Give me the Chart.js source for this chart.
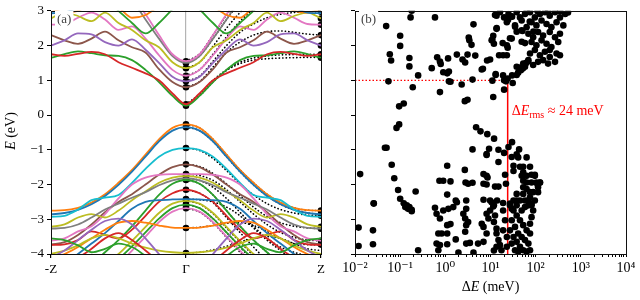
<!DOCTYPE html>
<html>
<head>
<meta charset="utf-8">
<script src="https://cdn.jsdelivr.net/npm/chart.js@4.4.1/dist/chart.umd.min.js"></script>
<style>
  html, body { margin: 0; padding: 0; background: #fff; }
  #wrap { position: relative; width: 640px; height: 300px; }
  #ca { position: absolute; left: 0; top: 0; }
  #cb { position: absolute; left: 330px; top: 0; }
</style>
</head>
<body>
<div id="wrap">
  <canvas id="ca" width="330" height="300"></canvas>
  <canvas id="cb" width="310" height="300"></canvas>
</div>
<script>
// ---- data: panel (a), band energies (eV) from Gamma (k=0) to Z (k=1) ----
const kPath = [0, 0.1, 0.2, 0.3, 0.4, 0.5, 0.6, 0.7, 0.8, 0.9, 1.0];
const kLabels = ['-Z', 'Γ', 'Z'];
const eTicks = [3, 2, 1, 0, -1, -2, -3, -4];

// model bands (coloured, drawn on both sides of Gamma)
const cGreen   = [0.27, 0.55, 0.95, 1.3, 1.58, 1.7, 1.72, 1.78, 1.83, 1.75, 1.65];
const cRed     = [0.31, 0.62, 1.0, 1.2, 1.36, 1.52, 1.75, 1.82, 1.76, 1.7, 1.75];
const cBrown   = [0.8, 0.95, 1.32, 1.8, 1.95, 2.15, 2.4, 2.2, 2.05, 2.15, 2.3];
const cPurple  = [0.97, 1.1, 1.5, 1.88, 2.18, 2.0, 2.1, 2.32, 2.35, 2.15, 2.0];
const cPink    = [1.13, 1.3, 1.72, 2.2, 2.55, 2.45, 2.75, 2.95, 2.8, 2.62, 2.6];
const cOlive   = [1.35, 1.52, 1.95, 2.15, 2.45, 2.65, 2.95, 2.7, 2.85, 2.95, 2.78];
const cGray    = [1.5, 1.7, 2.2, 2.75, 3.3, 3.6, 3.7, 3.7, 3.7, 3.7, 3.7];
const cPink2   = [1.55, 1.75, 2.3, 2.9, 3.4, 3.7, 3.7, 3.7, 3.7, 3.7, 3.7];
const cGreenUp = [3.45, 3.05, 2.65, 2.35, 2.65, 3.0, 3.35, 3.6, 3.6, 3.6, 3.6];
const cOrangeUp= [3.8, 3.5, 3.15, 2.88, 2.8, 3.1, 3.3, 3.2, 3.0, 2.95, 3.05];
const cBlueUp  = [3.9, 3.6, 3.3, 3.05, 3.2, 3.4, 3.5, 3.3, 3.1, 2.95, 2.93];

const vOrange  = [-0.27, -0.37, -0.7, -1.14, -1.58, -1.95, -2.28, -2.52, -2.67, -2.74, -2.75];
const vBlue    = [-0.35, -0.45, -0.76, -1.2, -1.63, -2.01, -2.33, -2.57, -2.73, -2.82, -2.86];
const vCyan    = [-0.95, -1.0, -1.2, -1.55, -1.95, -2.3, -2.38, -2.45, -2.72, -2.9, -2.93];
const vBrown   = [-1.42, -1.5, -1.72, -2.0, -2.28, -2.5, -2.8, -3.15, -3.45, -3.66, -3.73];
const vPink    = [-1.7, -1.7, -1.72, -1.8, -2.0, -2.4, -2.85, -3.2, -3.35, -3.55, -3.62];
const vOlive   = [-1.75, -1.8, -1.95, -2.2, -2.45, -2.75, -2.95, -2.85, -2.95, -3.15, -3.22];
const vGray    = [-1.82, -1.88, -2.02, -2.22, -2.38, -2.55, -2.72, -2.95, -3.15, -3.25, -3.27];
const vGreen   = [-1.87, -1.98, -2.3, -2.75, -3.2, -3.6, -3.95, -4.3, -4.5, -4.6, -4.6];
const vRed     = [-2.15, -2.25, -2.5, -2.9, -3.3, -3.55, -3.45, -3.35, -3.6, -3.72, -3.74];
const vBlue2   = [-2.42, -2.43, -2.45, -2.5, -2.7, -3.05, -3.4, -3.7, -4.0, -4.3, -4.4];
const vOlive2  = [-2.47, -2.55, -2.82, -3.22, -3.62, -4.0, -4.3, -4.5, -4.5, -4.5, -4.5];
const vGreen2  = [-2.58, -2.68, -2.98, -3.38, -3.78, -4.15, -4.5, -4.6, -4.6, -4.6, -4.6];
const vPink2   = [-2.68, -2.78, -3.08, -3.5, -3.9, -4.3, -4.6, -4.7, -4.7, -4.7, -4.7];
const vOrange2 = [-3.25, -3.24, -3.18, -3.1, -3.05, -3.1, -3.3, -3.55, -3.8, -4.0, -4.1];
const vOlive3  = [-3.97, -3.95, -3.9, -3.82, -3.7, -3.55, -3.45, -3.55, -3.75, -3.9, -4.0];
const vPurple  = [-4.6, -4.4, -4.0, -3.55, -3.15, -2.98, -3.05, -3.3, -3.6, -3.9, -4.1];
const vRed2    = [-4.5, -4.4, -4.2, -3.9, -3.6, -3.4, -3.55, -3.85, -4.1, -4.2, -4.2];
const vGreen3  = [-4.6, -4.5, -4.3, -4.05, -3.8, -3.7, -3.85, -3.95, -3.75, -3.6, -3.55];

// reference bands (black dotted, Gamma to Z only)
const refBands = [
  [0.28, 0.55, 0.95, 1.28, 1.48, 1.58, 1.62, 1.64, 1.65, 1.66, 1.66],
  [0.31, 0.6, 1.0, 1.3, 1.52, 1.64, 1.7, 1.73, 1.74, 1.75, 1.75],
  [0.8, 0.96, 1.38, 1.8, 2.1, 2.3, 2.4, 2.42, 2.38, 2.33, 2.3],
  [0.97, 1.12, 1.55, 2.0, 2.38, 2.62, 2.8, 2.9, 2.95, 2.97, 2.97],
  [1.13, 1.3, 1.75, 2.25, 2.7, 3.05, 3.3],
  [1.35, 1.52, 1.98, 2.5, 2.95, 3.3],
  [1.5, 1.7, 2.2, 2.75, 3.25],
  [1.55, 1.76, 2.3, 2.88, 3.4],
  [-0.27, -0.37, -0.7, -1.14, -1.58, -1.95, -2.28, -2.52, -2.67, -2.74, -2.75],
  [-0.35, -0.45, -0.76, -1.2, -1.63, -2.01, -2.33, -2.57, -2.73, -2.82, -2.86],
  [-0.95, -1.02, -1.25, -1.6, -1.98, -2.3, -2.55, -2.72, -2.82, -2.88, -2.9],
  [-1.42, -1.48, -1.68, -1.98, -2.32, -2.65, -2.92, -3.1, -3.2, -3.25, -3.27],
  [-1.7, -1.74, -1.88, -2.15, -2.5, -2.85, -3.15, -3.38, -3.52, -3.6, -3.62],
  [-1.82, -1.88, -2.08, -2.4, -2.8, -3.2, -3.55, -3.8, -3.95, -4.05, -4.1],
  [-1.87, -1.98, -2.3, -2.75, -3.2, -3.6, -3.95, -4.25],
  [-2.15, -2.25, -2.52, -2.95, -3.38, -3.8, -4.2],
  [-2.42, -2.44, -2.5, -2.65, -2.9, -3.25, -3.6, -3.9, -4.2],
  [-2.47, -2.56, -2.84, -3.25, -3.65, -4.05, -4.4],
  [-2.58, -2.68, -2.98, -3.38, -3.8, -4.2],
  [-2.68, -2.79, -3.1, -3.52, -3.95, -4.35],
  [-3.25, -3.23, -3.18, -3.12, -3.1, -3.18, -3.35, -3.55, -3.7, -3.73, -3.74],
  [-3.97, -3.95, -3.88, -3.78, -3.65, -3.55, -3.5, -3.55, -3.7, -3.85, -3.9]
];

// fitted energies marked by dots
const gammaLevels = [0.27, 0.31, 0.8, 0.97, 1.13, 1.35, 1.5, 1.55, -0.27, -0.35, -0.95, -1.42,
  -1.7, -1.75, -1.82, -1.87, -2.15, -2.42, -2.47, -2.58, -2.68, -3.25, -3.97];
const zLevels = [1.65, 1.75, 2.0, 2.3, 2.6, 2.78, 2.97, -2.75, -2.86, -2.9, -3.22, -3.27, -3.62, -3.73];

// ---- data: panel (b), deviation (meV) vs energy (eV) ----
const devUpper = [
  [0.049, 2.56], [0.17, 2.81], [0.18, 3.0], [0.59, 2.81], [0.10, 2.28], [0.10, 1.99], [0.059, 1.75],
  [0.063, 1.57], [0.16, 1.64], [0.16, 1.4], [0.25, 1.14], [0.055, 0.97], [0.19, 0.8], [0.50, 1.35],
  [0.66, 1.66], [0.76, 1.54], [0.79, 1.47], [0.9, 1.23], [1.15, 1.63], [1.2, 0.97], [0.76, 0.66],
  [1.8, 1.74], [2.4, 1.6], [2.75, 1.51], [3.1, 1.74], [3.3, 2.23], [3.4, 2.15], [4.2, 2.61], [3.8, 2.02],
  [4.6, 1.71], [2.3, 0.88], [4.0, 1.02], [6.8, 1.33], [8.4, 1.57], [9.8, 1.6], [11, 0.99],
  [11, 2.17], [11.5, 2.28], [12.6, 2.88], [13.7, 2.5], [15.5, 1.72], [19, 1.72], [23, 1.72], [13, 1.18],
  [19, 1.14], [30, 1.14], [22, 0.97], [31, 0.92], [18.6, 2.07], [24, 1.94], [27, 2.21], [24.5, 2.74],
  [30, 2.83], [35, 2.54], [38, 2.4], [45, 1.37], [55, 1.4], [62, 1.5], [68, 1.55], [49, 2.11], [58, 2.07],
  [51, 2.42], [74, 2.69], [89, 2.4], [1.1, 1.2], [1.2, 1.25], [1.3, 0.96], [6.4, 1.31], [13, 1.15],
  [24, 1.05], [20, 1.0], [38, 1.15], [41, 1.22], [47, 1.29], [52, 1.34], [58, 1.39],
  [13.6, 2.86], [16.2, 2.96], [20, 2.81], [25, 2.91], [29.5, 2.84], [38, 2.96], [45, 2.81], [58, 2.91],
  [75, 2.96], [96, 2.81], [124, 2.91], [160, 2.96], [205, 2.86], [268, 2.96], [345, 2.81], [450, 2.91],
  [63, 2.99], [110, 2.99], [190, 2.99], [350, 2.99], [520, 2.95],
  [23, 2.67], [34.9, 2.58], [49, 2.72], [63, 2.53], [81, 2.67], [104, 2.58], [135, 2.72], [174, 2.62],
  [223, 2.53], [290, 2.67], [410, 2.58],
  [13.6, 2.48], [49, 2.44], [69, 2.34], [88, 2.24], [113, 2.39], [146, 2.29], [205, 2.39], [268, 2.24], [345, 2.34],
  [10.6, 2.15], [11.9, 2.05], [23, 2.01], [29.5, 2.2], [81, 2.1], [104, 2.01], [135, 2.15], [174, 2.05],
  [223, 1.96], [316, 2.1],
  [75, 1.77], [96, 1.87], [124, 1.72], [160, 1.82], [205, 1.67], [290, 1.77], [345, 1.72], [205, 1.87],
  [38, 1.39], [53, 1.48], [69, 1.58], [88, 1.44], [113, 1.53], [146, 1.58], [188, 1.48], [268, 1.53]
];
const devGap = [
  [20, 0.73], [2.7, 0.4], [3.1, 0.44], [11.5, 0.52], [0.095, 0.25], [0.12, 0.33],
  [0.083, -0.37], [0.095, -0.27], [0.046, -0.94], [0.05, -0.94], [4.8, -0.35], [6, -0.47],
  [8.5, -0.55], [12, -0.68], [4, -0.99], [8.2, -1.12], [9.3, -0.97], [15, -1.0], [20, -1.09],
  [25, -0.92], [30, -0.78], [43, -0.99], [38, -1.13]
];
const devLower = [
  [0.013, -1.7], [0.065, -1.43], [0.074, -1.82], [0.09, -2.16], [0.1, -2.41], [0.12, -2.54], [0.14, -2.6],
  [0.16, -2.65], [0.18, -2.73], [0.22, -2.2], [0.026, -2.54], [1.1, -1.46], [0.74, -1.89], [0.9, -1.89],
  [1.3, -1.91], [1.1, -2.29], [1.7, -2.46], [2.7, -1.58], [2.8, -1.94], [3.2, -1.98], [4, -1.95],
  [2.9, -2.46], [8.2, -1.15], [15, -1.35], [7, -1.7], [8.2, -1.75], [8.6, -1.8], [7, -1.98], [8.2, -2.0],
  [12.6, -2.06], [15, -2.06], [21, -1.72], [22, -1.98], [7, -2.44], [9.8, -2.46], [14, -2.46], [19, -2.53],
  [11.5, -2.63],
  [29.5, -1.21], [41, -1.22], [63, -1.22], [32.3, -1.46], [45, -1.49], [53, -1.49], [75, -1.49],
  [32.3, -1.61], [53, -1.65], [49, -1.75], [63, -1.75], [81, -1.72], [96, -1.72], [53, -1.89], [63, -1.94],
  [81, -1.94], [104, -1.94], [124, -1.94], [113, -2.08], [53, -2.08], [63, -2.13], [75, -2.22], [88, -2.22],
  [113, -2.22], [53, -2.27], [38, -2.27], [45, -2.46], [32.3, -2.46], [58, -2.46], [75, -2.37], [96, -2.46],
  [81, -2.6], [69, -2.6], [38, -2.6], [27, -2.6], [29.5, -2.7], [125, -1.94], [96, -1.75], [110, -2.0],
  [0.012, -3.24], [0.012, -3.77], [0.026, -2.55], [0.025, -3.32], [0.025, -3.72], [0.13, -2.65],
  [0.15, -2.7], [0.18, -2.77], [0.25, -3.89], [0.59, -2.67], [0.64, -2.84], [0.76, -2.98], [0.7, -3.41],
  [0.83, -3.41], [1.1, -3.41], [0.64, -3.7], [0.76, -3.74], [0.7, -3.89], [1.1, -3.72], [0.9, -2.75],
  [1.17, -2.7], [1.1, -3.17], [1.3, -3.14], [1.5, -2.65], [1.8, -2.51], [1.7, -3.58], [1.95, -3.96],
  [2.5, -2.84], [2.9, -2.7], [2.75, -2.98], [3.2, -3.08], [2.9, -3.17], [2.75, -3.36], [2.9, -3.7],
  [3.5, -3.68], [4.2, -3.96], [5.3, -3.7], [7, -3.65],
  [6.4, -3.13], [7, -3.22], [8.2, -2.84], [8.2, -3.41], [9.0, -2.98], [9.8, -2.75], [10.6, -2.51],
  [11.9, -2.6], [12.6, -2.89], [11.9, -3.08], [13.6, -3.27], [13.6, -3.41], [15, -3.6], [16.2, -3.74],
  [17.5, -3.89], [11.9, -3.9], [13.6, -3.79], [19, -2.75], [21, -3.03], [19, -3.32], [23, -3.51], [23, -3.79],
  [27, -2.55], [32.3, -2.75], [38, -2.89], [45, -3.03], [53, -3.17], [29.5, -3.03], [34.9, -3.22],
  [41, -3.41], [49, -3.51], [58, -3.6], [32.3, -3.51], [38, -3.65], [45, -3.79], [53, -3.89], [63, -3.93],
  [75, -3.89], [69, -3.7], [75, -3.41], [63, -3.32], [75, -3.13], [81, -2.94], [88, -2.75], [81, -2.55],
  [58, -2.65], [69, -2.46], [38, -2.46], [49, -2.75], [27, -3.32], [29.5, -3.7], [34.9, -3.89], [41, -3.93]
];
const rmsMeV = 24;
const refLevel = 1;
const dEMin = 0.01, dEMax = 10000;

// ---- styling ----
const C = {
  blue: '#1f77b4', orange: '#ff7f0e', green: '#2ca02c', red: '#d62728', purple: '#9467bd',
  brown: '#8c564b', pink: '#e377c2', gray: '#7f7f7f', olive: '#bcbd22', cyan: '#17becf'
};
const serif = '"Liberation Serif", "DejaVu Serif", serif';

const colouredBands = [
  [vGreen3, C.green], [vRed2, C.red], [vPurple, C.purple], [vOlive3, C.olive], [vOrange2, C.orange],
  [vPink2, C.pink], [vGreen2, C.green], [vOlive2, C.olive], [vBlue2, C.blue], [vRed, C.red],
  [vGreen, C.green], [vGray, C.gray], [vOlive, C.olive], [vPink, C.pink], [vBrown, C.brown],
  [vCyan, C.cyan], [vBlue, C.blue], [vOrange, C.orange],
  [cBlueUp, C.blue], [cOrangeUp, C.orange], [cGreenUp, C.green], [cPink2, C.pink], [cGray, C.gray],
  [cOlive, C.olive], [cPink, C.pink], [cPurple, C.purple], [cBrown, C.brown], [cRed, C.red], [cGreen, C.green]
];

function mirrored(vals) {
  const pts = [];
  for (let i = vals.length - 1; i > 0; i--) pts.push({ x: -kPath[i], y: vals[i] });
  for (let i = 0; i < vals.length; i++) pts.push({ x: kPath[i], y: vals[i] });
  return pts;
}
function halfPath(vals) {
  return vals.map((v, i) => ({ x: kPath[i], y: v }));
}

const bandSets = [];
colouredBands.forEach(([vals, col]) => {
  bandSets.push({
    data: mirrored(vals), borderColor: col, borderWidth: 1.8, pointRadius: 0,
    cubicInterpolationMode: 'monotone', fill: false
  });
});
refBands.forEach(vals => {
  bandSets.push({
    data: halfPath(vals), borderColor: '#000', borderWidth: 1.6, pointRadius: 0,
    borderDash: [0.3, 3.2], borderCapStyle: 'round', cubicInterpolationMode: 'monotone', fill: false
  });
});
bandSets.push({
  data: gammaLevels.map(e => ({ x: 0, y: e })).concat(zLevels.map(e => ({ x: 1, y: e }))),
  showLine: false, pointRadius: 3.3, pointBackgroundColor: '#000', pointBorderWidth: 0
});

// frame + labels drawn on top of the plot
function framePlugin(extra) {
  return {
    id: 'frame',
    afterDatasetsDraw(chart) {
      const a = chart.chartArea, ctx = chart.ctx;
      ctx.save();
      ctx.strokeStyle = '#111';
      ctx.lineWidth = 1;
      ctx.strokeRect(Math.round(a.left) + 0.5, Math.round(a.top) + 0.5,
        Math.round(a.right - a.left), Math.round(a.bottom - a.top));
      ctx.restore();
    },
    afterDraw(chart) { extra(chart.ctx, chart); }
  };
}

function panelLabel(ctx, text, x, y) {
  ctx.save();
  ctx.font = '13px ' + serif;
  const w = ctx.measureText(text).width;
  ctx.fillStyle = '#fff';
  ctx.fillRect(x - 2, y - 9, w + 4, 17);
  ctx.fillStyle = '#444';
  ctx.textBaseline = 'middle';
  ctx.fillText(text, x, y);
  ctx.restore();
}

const tickFont = { family: serif, size: 13 };
const minusFmt = v => (v < 0 ? '−' + Math.abs(v) : String(v));

new Chart(document.getElementById('ca'), {
  type: 'line',
  data: { datasets: bandSets },
  options: {
    responsive: false, animation: false, parsing: true,
    layout: { padding: { top: 8, right: 9, left: 0, bottom: 0 } },
    plugins: { legend: { display: false }, tooltip: { enabled: false } },
    scales: {
      x: {
        type: 'linear', min: -1, max: 1,
        afterBuildTicks: s => { s.ticks = [-1, 0, 1].map(v => ({ value: v })); },
        afterFit: s => { s.height = 46; },
        ticks: { callback: (v, i) => kLabels[i], font: tickFont, color: '#000', padding: 4, maxRotation: 0, autoSkip: false },
        grid: {
          drawOnChartArea: true, tickLength: 4, tickColor: '#000',
          color: c => (c.tick && c.tick.value === 0 ? '#b4b4b4' : 'rgba(0,0,0,0)'), lineWidth: 1.2
        },
        border: { display: false }
      },
      y: {
        type: 'linear', min: -4, max: 3,
        afterBuildTicks: s => { s.ticks = eTicks.map(v => ({ value: v })); },
        afterFit: s => { s.width = 51; },
        ticks: { callback: minusFmt, font: tickFont, color: '#000', padding: 3 },
        grid: { drawOnChartArea: false, tickLength: 4, tickColor: '#000' },
        border: { display: false }
      }
    }
  },
  plugins: [framePlugin((ctx) => {
    panelLabel(ctx, '(a)', 57, 20);
    ctx.save();
    ctx.translate(11, 131);
    ctx.rotate(-Math.PI / 2);
    ctx.fillStyle = '#000';
    ctx.textBaseline = 'middle';
    ctx.font = 'italic 14px ' + serif;
    const wE = ctx.measureText('E').width;
    ctx.font = '14px ' + serif;
    const wR = ctx.measureText(' (eV)').width;
    const x0 = -(wE + wR) / 2;
    ctx.font = 'italic 14px ' + serif;
    ctx.fillText('E', x0, 0);
    ctx.font = '14px ' + serif;
    ctx.fillText(' (eV)', x0 + wE, 0);
    ctx.restore();
  })]
});

// ---- panel (b) ----
const sup = { '-': '⁻', '0': '⁰', '1': '¹', '2': '²', '3': '³', '4': '⁴' };
const logTicks = [];
for (let e = -2; e <= 3; e++) for (let m = 1; m <= 9; m++) logTicks.push(m * Math.pow(10, e));
logTicks.push(dEMax);

const toPts = arr => arr.map(([d, e]) => ({ x: d, y: e }));
const devPoints = toPts(devUpper).concat(toPts(devGap), toPts(devLower));

new Chart(document.getElementById('cb'), {
  type: 'scatter',
  data: {
    datasets: [
      { data: devPoints, pointRadius: 3.3, pointBackgroundColor: '#000', pointBorderWidth: 0 },
      { data: [{ x: dEMin, y: refLevel }, { x: rmsMeV, y: refLevel }], showLine: true, pointRadius: 0,
        borderColor: '#ff0000', borderWidth: 1.3, borderDash: [1.5, 2] },
      { data: [{ x: rmsMeV, y: -4 }, { x: rmsMeV, y: refLevel }], showLine: true, pointRadius: 0,
        borderColor: '#ff0000', borderWidth: 1.5 }
    ]
  },
  options: {
    responsive: false, animation: false,
    layout: { padding: { top: 8, right: 14, left: 0, bottom: 0 } },
    plugins: { legend: { display: false }, tooltip: { enabled: false } },
    scales: {
      x: {
        type: 'logarithmic', min: dEMin, max: dEMax,
        afterBuildTicks: s => { s.ticks = logTicks.map(v => ({ value: v })); },
        afterFit: s => { s.height = 46; },
        ticks: {
          autoSkip: false, maxRotation: 0, font: { family: serif, size: 14 }, color: '#000', padding: 3,
          callback: v => {
            const ex = Math.log10(v);
            if (Math.abs(ex - Math.round(ex)) > 1e-6) return '';
            return '10' + String(Math.round(ex)).split('').map(ch => sup[ch]).join('');
          }
        },
        grid: { drawOnChartArea: false, tickLength: 3, tickColor: '#000' },
        border: { display: false }
      },
      y: {
        type: 'linear', min: -4, max: 3,
        afterBuildTicks: s => { s.ticks = eTicks.map(v => ({ value: v })); },
        afterFit: s => { s.width = 25; },
        ticks: { callback: () => '', font: tickFont },
        grid: { drawOnChartArea: false, tickLength: 4, tickColor: '#000' },
        border: { display: false }
      }
    }
  },
  plugins: [framePlugin((ctx, chart) => {
    panelLabel(ctx, '(b)', 31, 20);
    // x title
    ctx.save();
    ctx.fillStyle = '#000';
    ctx.textBaseline = 'middle';
    const a = chart.chartArea;
    const parts = [['Δ', ''], ['E', 'italic '], [' (meV)', '']];
    let tw = 0;
    parts.forEach(([t, st]) => { ctx.font = st + '14px ' + serif; tw += ctx.measureText(t).width; });
    let x = (a.left + a.right) / 2 - tw / 2;
    parts.forEach(([t, st]) => { ctx.font = st + '14px ' + serif; ctx.fillText(t, x, 287); x += ctx.measureText(t).width; });
    // rms annotation
    ctx.fillStyle = '#ff0000';
    let xr = chart.scales.x.getPixelForValue(rmsMeV) + 4;
    const yr = 111;
    const seg = [['Δ', '14px ', 0], ['E', 'italic 14px ', 0], ['rms', '10px ', 4], [' ≈ ' + rmsMeV + ' meV', '14px ', 0]];
    seg.forEach(([t, f, dy]) => { ctx.font = f + serif; ctx.fillText(t, xr, yr + dy); xr += ctx.measureText(t).width; });
    ctx.restore();
  })]
});
</script>
</body>
</html>
